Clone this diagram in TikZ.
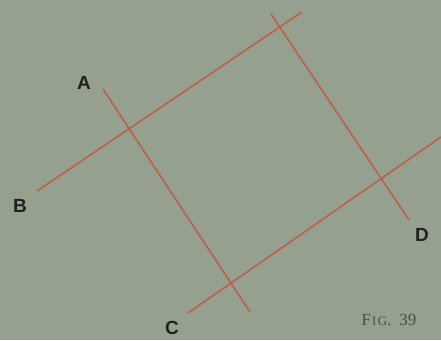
\documentclass[tikz,border=0pt]{standalone}
\usepackage{fontspec}
\setmainfont{Liberation Serif}
\newfontfamily\lblfont{Liberation Sans}
\definecolor{paper}{RGB}{150,160,143}
\definecolor{redline}{RGB}{190,92,72}
\definecolor{ink}{RGB}{30,33,30}
\newcommand{\fakesc}[1]{{\fontsize{13}{13}\selectfont #1}}
\begin{document}
\begin{tikzpicture}[x=1pt,y=-1pt,
  redl/.style={draw=redline,line width=1.5pt},
  lbl/.style={font=\lblfont\bfseries\fontsize{19}{19}\selectfont,text=ink,inner sep=0pt},
  figlbl/.style={font=\fontsize{17}{17}\selectfont,text=ink!80,inner sep=0pt}]
\fill[paper] (0,0) rectangle (441,340);
\useasboundingbox (0,0) rectangle (441,340);
% line end points
\coordinate (a1) at (103,89);
\coordinate (a2) at (250,312);
\coordinate (b1) at (37,191);
\coordinate (b2) at (302,12);
\coordinate (r1) at (271,14);
\coordinate (r2) at (409,220);
\coordinate (c1) at (188,313);
\coordinate (c2) at (441,137);
\draw[redl] (a1) -- (a2);
\draw[redl] (b1) -- (b2);
\draw[redl] (r1) -- (r2);
\draw[redl] (c1) -- (c2);
\node[lbl] (A) at (84,83) {A};
\node[lbl] (B) at (20,206) {B};
\node[lbl] (C) at (172,328) {C};
\node[lbl] (D) at (422,235) {D};
\node[figlbl] (fig) at (389,320) {F\kern1pt\fakesc{I\kern1.5pt G}.\kern8pt 39};
\end{tikzpicture}
\end{document}
